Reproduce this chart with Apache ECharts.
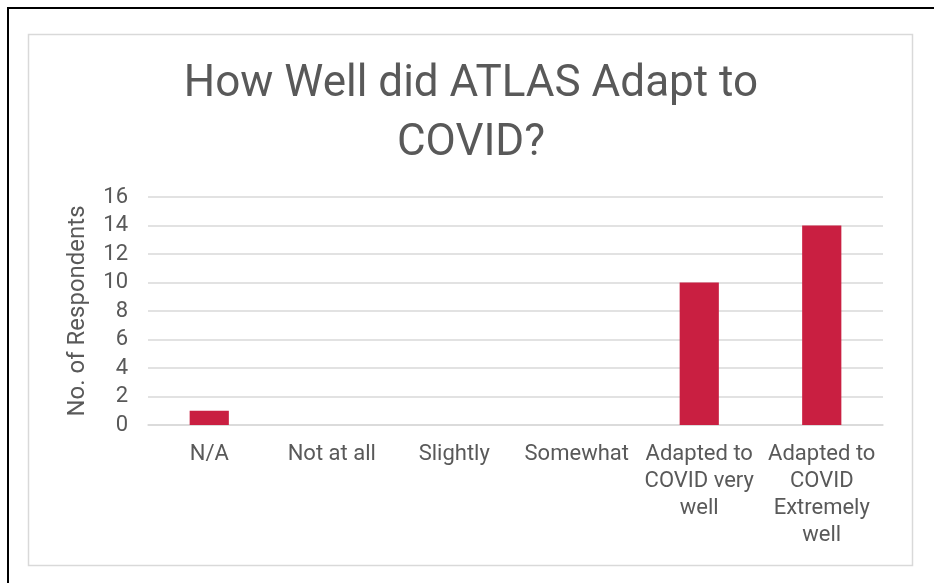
<!DOCTYPE html>
<html>
<head>
<meta charset="utf-8">
<script src="https://cdn.jsdelivr.net/npm/echarts@6/dist/echarts.min.js"></script>
<style>html,body{margin:0;padding:0;background:#fff;}#c{width:934px;height:583px;}</style>
</head>
<body>
<div id="c"></div>
<script>
var categories = ['N/A', 'Not at all', 'Slightly', 'Somewhat', 'Adapted to\nCOVID very\nwell', 'Adapted to\nCOVID\nExtremely\nwell'];
var respondents = [1, 0, 0, 0, 10, 14];
var yTicks = [0, 2, 4, 6, 8, 10, 12, 14, 16];
var titleText = 'How Well did ATLAS Adapt to\nCOVID?';
var yAxisName = 'No. of Respondents';

var FONT = 'Roboto';
var chart = echarts.init(document.getElementById('c'), null, {renderer: 'canvas'});
chart.setOption({
  animation: false,
  backgroundColor: '#fff',
  graphic: [
    {type: 'rect', shape: {x: 8, y: 8, width: 1000, height: 1000}, style: {fill: 'none', stroke: '#000', lineWidth: 2}, silent: true},
    {type: 'rect', shape: {x: 28.5, y: 34.5, width: 884, height: 531}, style: {fill: 'none', stroke: '#D9D9D9', lineWidth: 1.5}, silent: true}
  ],
  title: {
    text: titleText,
    left: 466, top: 50, textAlign: 'center',
    textStyle: {fontFamily: FONT, fontSize: 44, fontWeight: 'normal', color: '#595959', lineHeight: 59}
  },
  grid: {left: 148, right: 51, top: 197, bottom: 158, containLabel: false},
  xAxis: {
    type: 'category', data: categories,
    axisLine: {show: true, lineStyle: {color: '#D9D9D9', width: 1.5}},
    axisTick: {show: false},
    axisLabel: {interval: 0, margin: 16, color: '#595959', fontFamily: FONT, fontSize: 22, lineHeight: 27, verticalAlign: 'top'}
  },
  yAxis: {
    type: 'value', min: yTicks[0], max: yTicks[yTicks.length - 1], interval: 2,
    name: yAxisName, nameLocation: 'middle', nameGap: 58, nameRotate: 90,
    nameTextStyle: {color: '#595959', fontFamily: FONT, fontSize: 24},
    axisLine: {show: false}, axisTick: {show: false},
    splitLine: {lineStyle: {color: '#D9D9D9', width: 1.5}},
    axisLabel: {color: '#595959', fontFamily: FONT, fontSize: 22, margin: 20}
  },
  series: [{
    type: 'bar', data: respondents, barWidth: '32%',
    itemStyle: {color: '#C91F41'}
  }]
});
</script>
</body>
</html>
